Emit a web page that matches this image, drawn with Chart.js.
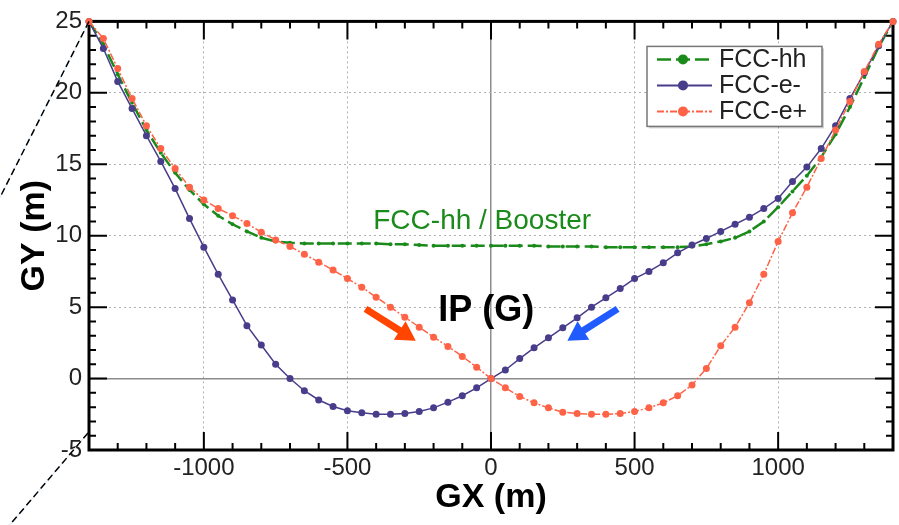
<!DOCTYPE html>
<html>
<head>
<meta charset="utf-8">
<script src="https://cdn.jsdelivr.net/npm/chart.js@4.4.0/dist/chart.umd.min.js"></script>
<style>
    html, body { margin: 0; padding: 0; background: #fff; }
    #wrap { width: 899px; height: 525px; }
</style>
</head>
<body>
<div id="wrap"><canvas id="orbitChart" width="899" height="525"></canvas></div>
<script>
// GX positions (m), shared by the three orbits
const gx = [-1400, -1350, -1300, -1250, -1200, -1150, -1100, -1050, -1000, -950, -900, -850, -800, -750, -700, -650, -600, -550, -500, -450, -400, -350, -300, -250, -200, -150, -100, -50,
            0, 50, 100, 150, 200, 250, 300, 350, 400, 450, 500, 550, 600, 650, 700, 750, 800, 850, 900, 950, 1000, 1050, 1100, 1150, 1200, 1250, 1300, 1350, 1400];

// GY (m)
const fccHh = [25.0, 23.4, 21.3, 19.3, 17.4, 15.8, 14.4, 13.2, 12.2, 11.4, 10.8, 10.3, 9.85, 9.6, 9.5, 9.45, 9.45, 9.45, 9.45, 9.45, 9.45, 9.4, 9.4, 9.35, 9.3, 9.3, 9.3, 9.3,
               9.3, 9.3, 9.3, 9.3, 9.25, 9.25, 9.25, 9.25, 9.2, 9.2, 9.2, 9.2, 9.2, 9.2, 9.25, 9.4, 9.6, 9.85, 10.3, 11.0, 12.0, 13.1, 14.2, 15.5, 17.1, 19.0, 21.1, 23.2, 25.0];
const fccEMinus = [25.0, 23.1, 20.8, 18.9, 17.0, 15.2, 13.3, 11.2, 9.2, 7.3, 5.5, 3.7, 2.35, 1.0, 0.0, -0.85, -1.5, -1.95, -2.25, -2.4, -2.5, -2.5, -2.45, -2.3, -2.05, -1.65, -1.2, -0.65,
                   0.0, 0.6, 1.4, 2.15, 2.85, 3.55, 4.25, 5.0, 5.65, 6.3, 7.0, 7.5, 8.1, 8.8, 9.35, 9.8, 10.3, 10.8, 11.3, 11.9, 12.6, 13.8, 14.8, 16.1, 17.7, 19.6, 21.4, 23.3, 25.0];
const fccEPlus = [25.0, 23.8, 21.7, 19.6, 17.7, 16.1, 14.7, 13.4, 12.5, 11.9, 11.4, 10.85, 10.25, 9.7, 9.25, 8.7, 8.15, 7.6, 7.0, 6.4, 5.7, 5.0, 4.3, 3.6, 2.9, 2.25, 1.55, 0.8,
                  0.0, -0.65, -1.25, -1.7, -2.05, -2.35, -2.45, -2.5, -2.5, -2.45, -2.3, -2.05, -1.7, -1.2, -0.45, 0.7, 2.3, 3.6, 5.3, 7.3, 9.6, 11.6, 13.4, 15.4, 17.4, 19.4, 21.5, 23.4, 25.0];

const xTicks = [-1000, -500, 0, 500, 1000];
const yTicks = [-5, 0, 5, 10, 15, 20, 25];

const FONT = "'Liberation Sans', Arial, Helvetica, sans-serif";

function toPoints(ys) {
    return gx.map((x, i) => ({ x: x, y: ys[i] }));
}

// frame + inward minor/major ticks on all four sides
const frameTicks = {
    id: 'frameTicks',
    beforeDatasetsDraw(chart) {
        const { ctx, chartArea: a, scales: { x, y } } = chart;
        ctx.save();
        ctx.strokeStyle = '#000';
        ctx.lineWidth = 2;
        ctx.beginPath();
        for (let v = x.min + 100; v < x.max; v += 100) {
            const px = x.getPixelForValue(v);
            const len = v % 500 === 0 ? 18 : 7;
            ctx.moveTo(px, a.bottom); ctx.lineTo(px, a.bottom - len);
            ctx.moveTo(px, a.top); ctx.lineTo(px, a.top + len);
        }
        for (let v = y.min + 1; v < y.max; v += 1) {
            const py = y.getPixelForValue(v);
            const len = v % 5 === 0 ? 18 : 7;
            ctx.moveTo(a.left, py); ctx.lineTo(a.left + len, py);
            ctx.moveTo(a.right, py); ctx.lineTo(a.right - len, py);
        }
        ctx.stroke();
        ctx.lineWidth = 3;
        ctx.strokeRect(a.left, a.top, a.width, a.height);
        ctx.restore();
    }
};

// labels, arrows, legend box and the two dashed guide lines
const notes = [
    { text: 'FCC-hh / Booster', x: -410, y: 10.45, color: '#1a8a1a', font: '28px ' + FONT },
    { text: 'IP (G)', x: -184, y: 4.05, color: '#000', font: 'bold 36px ' + FONT }
];
const arrows = [
    { from: [-437, 4.88], to: [-262, 2.65], color: '#ff4500' },
    { from: [441, 4.88], to: [266, 2.65], color: '#1f5bff' }
];

function drawArrow(ctx, x1, y1, x2, y2, color) {
    const ang = Math.atan2(y2 - y1, x2 - x1);
    const len = Math.hypot(x2 - x1, y2 - y1);
    ctx.save();
    ctx.translate(x1, y1);
    ctx.rotate(ang);
    ctx.fillStyle = color;
    ctx.beginPath();
    ctx.moveTo(0, -3.5);
    ctx.lineTo(len - 19, -3.5);
    ctx.lineTo(len - 19, -11);
    ctx.lineTo(len, 0);
    ctx.lineTo(len - 19, 11);
    ctx.lineTo(len - 19, 3.5);
    ctx.lineTo(0, 3.5);
    ctx.closePath();
    ctx.fill();
    ctx.restore();
}

const extras = {
    id: 'extras',
    afterDraw(chart) {
        const { ctx, chartArea: a, scales: { x, y } } = chart;
        ctx.save();

        notes.forEach(n => {
            ctx.font = n.font;
            ctx.fillStyle = n.color;
            ctx.textAlign = 'left';
            ctx.textBaseline = 'alphabetic';
            ctx.fillText(n.text, x.getPixelForValue(n.x), y.getPixelForValue(n.y));
        });

        arrows.forEach(ar => {
            drawArrow(ctx, x.getPixelForValue(ar.from[0]), y.getPixelForValue(ar.from[1]),
                x.getPixelForValue(ar.to[0]), y.getPixelForValue(ar.to[1]), ar.color);
        });

        // legend
        const bx = a.right - 246, by = a.top + 25, bw = 175, bh = 80;
        ctx.fillStyle = 'rgba(0,0,0,0.18)';
        ctx.fillRect(bx + 2, by + 2, bw, bh);
        ctx.fillStyle = '#fff';
        ctx.fillRect(bx, by, bw, bh);
        ctx.strokeStyle = '#777';
        ctx.lineWidth = 1.5;
        ctx.strokeRect(bx, by, bw, bh);
        chart.data.datasets.forEach((ds, i) => {
            const ly = by + 13 + i * 26;
            ctx.strokeStyle = ds.borderColor;
            ctx.lineWidth = Math.max(ds.borderWidth, 2);
            ctx.setLineDash(ds.borderDash || []);
            ctx.beginPath();
            ctx.moveTo(bx + 10, ly);
            ctx.lineTo(bx + 65, ly);
            ctx.stroke();
            ctx.setLineDash([]);
            ctx.fillStyle = ds.pointBackgroundColor;
            ctx.beginPath();
            ctx.arc(bx + 36, ly, 5, 0, Math.PI * 2);
            ctx.fill();
            ctx.fillStyle = '#222';
            ctx.font = '25px ' + FONT;
            ctx.textAlign = 'left';
            ctx.textBaseline = 'middle';
            ctx.fillText(ds.label, bx + 72, ly + 1);
        });

        // dashed guide lines on the left margin
        const guides = [
            [a.left, a.top, 0, a.top + 176],
            [a.left - 1, a.bottom - 17, a.left - 81, a.bottom + 77]
        ];
        guides.forEach(g => {
            ctx.strokeStyle = '#cfe6fb';
            ctx.lineWidth = 1;
            ctx.setLineDash([]);
            ctx.beginPath(); ctx.moveTo(g[0], g[1]); ctx.lineTo(g[2], g[3]); ctx.stroke();
            ctx.strokeStyle = '#000';
            ctx.lineWidth = 1.5;
            ctx.setLineDash([7, 4]);
            ctx.beginPath(); ctx.moveTo(g[0], g[1]); ctx.lineTo(g[2], g[3]); ctx.stroke();
        });
        ctx.restore();
    }
};

const isZero = c => c.tick && c.tick.value === 0;

new Chart(document.getElementById('orbitChart'), {
    type: 'line',
    data: {
        datasets: [
            {
                label: 'FCC-hh',
                data: toPoints(fccHh),
                borderColor: '#1a8a1a',
                pointBackgroundColor: '#1a8a1a',
                borderWidth: 2.5,
                borderDash: [14, 5],
                pointRadius: 2,
                pointBorderWidth: 0,
                order: 3
            },
            {
                label: 'FCC-e-',
                data: toPoints(fccEMinus),
                borderColor: '#483d8b',
                pointBackgroundColor: '#483d8b',
                borderWidth: 1.5,
                pointRadius: 3.5,
                pointBorderWidth: 0,
                order: 2
            },
            {
                label: 'FCC-e+',
                data: toPoints(fccEPlus),
                borderColor: '#ff6347',
                pointBackgroundColor: '#ff6347',
                borderWidth: 1.5,
                borderDash: [7, 2, 2, 2],
                pointRadius: 3.5,
                pointBorderWidth: 0,
                order: 1
            }
        ]
    },
    options: {
        responsive: false,
        animation: false,
        devicePixelRatio: 1,
        layout: { padding: { top: 20, right: 6, left: 0, bottom: 0 } },
        elements: { line: { tension: 0 } },
        plugins: {
            legend: { display: false },
            tooltip: { enabled: false }
        },
        datasets: { line: { clip: 6 } },
        scales: {
            x: {
                type: 'linear',
                min: -1400,
                max: 1400,
                afterBuildTicks: s => { s.ticks = xTicks.map(v => ({ value: v })); },
                afterFit: s => { s.height = 75; },
                grid: {
                    drawTicks: false,
                    color: c => isZero(c) ? '#8c8c8c' : '#b0b0b0',
                    lineWidth: c => isZero(c) ? 1.5 : 1
                },
                border: { display: false, dash: c => isZero(c) ? [] : [2, 3] },
                ticks: {
                    color: '#222',
                    font: { family: FONT, size: 24 },
                    padding: 4,
                    maxRotation: 0,
                    autoSkip: false,
                    callback: v => String(v)
                },
                title: {
                    display: true,
                    text: 'GX (m)',
                    color: '#000',
                    font: { family: FONT, size: 34, weight: 'bold' },
                    padding: { top: 0, bottom: 7 }
                }
            },
            y: {
                min: -5,
                max: 25,
                afterBuildTicks: s => { s.ticks = yTicks.map(v => ({ value: v })); },
                afterFit: s => { s.width = 89; },
                grid: {
                    drawTicks: false,
                    color: c => isZero(c) ? '#8c8c8c' : '#b0b0b0',
                    lineWidth: c => isZero(c) ? 1.5 : 1
                },
                border: { display: false, dash: c => isZero(c) ? [] : [2, 3] },
                ticks: {
                    color: '#222',
                    font: { family: FONT, size: 24 },
                    padding: 7,
                    callback: v => String(v)
                },
                title: {
                    display: true,
                    text: 'GY (m)',
                    color: '#000',
                    font: { family: FONT, size: 34, weight: 'bold' },
                    padding: { top: 14, bottom: 0 }
                }
            }
        }
    },
    plugins: [frameTicks, extras]
});
</script>
</body>
</html>
